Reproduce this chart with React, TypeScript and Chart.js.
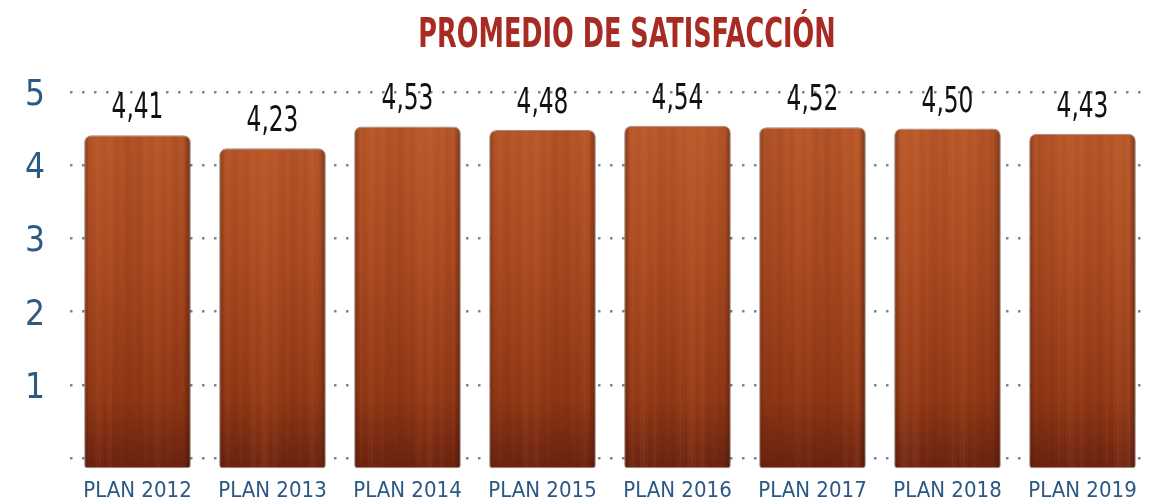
import React, { useEffect, useRef } from 'react';
import { Chart, registerables } from 'chart.js';

Chart.register(...registerables);

const chartTitle = 'PROMEDIO DE SATISFACCIÓN';
const categories = ['PLAN 2012', 'PLAN 2013', 'PLAN 2014', 'PLAN 2015', 'PLAN 2016', 'PLAN 2017', 'PLAN 2018', 'PLAN 2019'];
const satisfaction = [4.41, 4.23, 4.53, 4.48, 4.54, 4.52, 4.5, 4.43];
const yTickValues = [0, 1, 2, 3, 4, 5];

const NARROW = '"DejaVu Sans Condensed", "DejaVu Sans", sans-serif';
const BAR_PCT = 0.79;

function buildWood(chart: any) {
  const w = chart.width;
  const h = chart.height;
  const area = chart.chartArea;
  const off = document.createElement('canvas');
  off.width = w;
  off.height = h;
  const g = off.getContext('2d') as CanvasRenderingContext2D;
  const grad = g.createLinearGradient(0, area.top + 30, 0, area.bottom + 10);
  grad.addColorStop(0, '#b8582a');
  grad.addColorStop(0.4, '#a94a21');
  grad.addColorStop(0.8, '#903816');
  grad.addColorStop(1, '#6a2310');
  g.fillStyle = grad;
  g.fillRect(0, 0, w, h);
  for (let x = 0; x < w; x++) {
    const s =
      Math.sin(x * 0.53) * 0.35 +
      Math.sin(x * 1.71 + 0.8) * 0.2 +
      Math.sin(x * 0.117 + 2.1) * 0.45 +
      Math.sin(x * 3.3 + 1.1) * 0.2 +
      Math.sin(x * 0.029 + 0.5) * 0.3;
    const a = Math.min(0.16, Math.abs(s) * 0.11);
    g.fillStyle = s > 0 ? `rgba(235,140,80,${a})` : `rgba(80,25,8,${a})`;
    g.fillRect(x, 0, 1, h);
  }
  const xs = chart.scales.x;
  const half = (xs.width / categories.length) * BAR_PCT / 2;
  categories.forEach((_, i) => {
    const c = xs.getPixelForValue(i);
    const l = c - half;
    const r = c + half;
    const lg = g.createLinearGradient(l, 0, l + 6, 0);
    lg.addColorStop(0, 'rgba(60,15,3,0.4)');
    lg.addColorStop(1, 'rgba(60,15,3,0)');
    g.fillStyle = lg;
    g.fillRect(l, 0, 6, h);
    const rg = g.createLinearGradient(r - 7, 0, r, 0);
    rg.addColorStop(0, 'rgba(40,10,2,0)');
    rg.addColorStop(1, 'rgba(40,10,2,0.45)');
    g.fillStyle = rg;
    g.fillRect(r - 7, 0, 7, h);
  });
  return chart.ctx.createPattern(off, 'no-repeat');
}

function woodFill(c: any) {
  const chart = c.chart;
  if (!chart.chartArea || !chart.scales || !chart.scales.x) return '#9a4018';
  const key = `${chart.width}x${chart.height}-${chart.chartArea.left}-${chart.chartArea.right}-${chart.chartArea.bottom}`;
  if (!chart.$woodKey || chart.$woodKey !== key) {
    chart.$wood = buildWood(chart);
    chart.$woodKey = key;
  }
  return chart.$wood;
}

const valueLabels = {
  id: 'valueLabels',
  afterDatasetsDraw(chart: any) {
    const ctx = chart.ctx;
    const meta = chart.getDatasetMeta(0);
    ctx.save();
    ctx.font = `normal 36px ${NARROW}`;
    ctx.fillStyle = '#111111';
    ctx.textAlign = 'center';
    ctx.textBaseline = 'alphabetic';
    meta.data.forEach((bar: any, i: number) => {
      const txt = satisfaction[i].toFixed(2).replace('.', ',');
      ctx.save();
      ctx.translate(bar.x, bar.y - 17);
      ctx.scale(0.72, 1);
      ctx.fillText(txt, 0, 0);
      ctx.restore();
    });
    ctx.restore();
  },
};

const titlePlugin = {
  id: 'customTitle',
  afterDraw(chart: any) {
    const ctx = chart.ctx;
    const a = chart.chartArea;
    ctx.save();
    ctx.font = `bold 40px ${NARROW}`;
    ctx.fillStyle = '#a72b22';
    ctx.textAlign = 'center';
    ctx.textBaseline = 'alphabetic';
    ctx.translate((a.left + a.right) / 2 + 17, 47);
    ctx.scale(0.71, 1);
    ctx.fillText(chartTitle, 0, 0);
    ctx.restore();
  },
};

export default function App() {
  const ref = useRef<HTMLCanvasElement | null>(null);
  useEffect(() => {
    if (!ref.current) return;
    const chart = new Chart(ref.current, {
      type: 'bar',
      data: {
        labels: categories,
        datasets: [
          {
            data: satisfaction,
            base: -0.14,
            clip: false,
            backgroundColor: woodFill as any,
            borderColor: 'rgba(60,20,5,0.5)',
            borderWidth: 1,
            borderSkipped: false,
            borderRadius: { topLeft: 7, topRight: 7, bottomLeft: 3, bottomRight: 3 },
            barPercentage: BAR_PCT,
            categoryPercentage: 1,
          } as any,
        ],
      },
      options: {
        responsive: false,
        animation: false,
        layout: { padding: { top: 92, right: 17, bottom: 0, left: 0 } },
        plugins: {
          legend: { display: false },
          title: { display: false },
          tooltip: { enabled: false },
        },
        scales: {
          x: {
            afterFit: (s: any) => {
              s.height = 42;
            },
            grid: { display: false },
            border: { display: false },
            ticks: {
              color: '#2b5884',
              font: { family: NARROW, size: 22 },
              padding: 12,
              maxRotation: 0,
              autoSkip: false,
            },
          },
          y: {
            min: 0,
            max: 5,
            afterFit: (s: any) => {
              s.width = 70;
            },
            afterBuildTicks: (s: any) => {
              s.ticks = yTickValues.map((v) => ({ value: v }));
            },
            grid: {
              color: '#6d88a2',
              lineWidth: 2.5,
              drawTicks: false,
            },
            border: { display: false, dash: [2.5, 9.5] },
            ticks: {
              color: '#2e5a82',
              font: { family: NARROW, size: 35 },
              padding: 25,
              labelOffset: 4,
              callback: (v: any) => (v === 0 ? '' : String(v)),
            },
          },
        },
      },
      plugins: [valueLabels, titlePlugin],
    });
    return () => chart.destroy();
  }, []);
  return (
    <div style={{ position: 'absolute', left: 0, top: 0, width: 1167, height: 504, background: '#ffffff' }}>
      <canvas ref={ref} width={1167} height={504} style={{ display: 'block' }} />
    </div>
  );
}
